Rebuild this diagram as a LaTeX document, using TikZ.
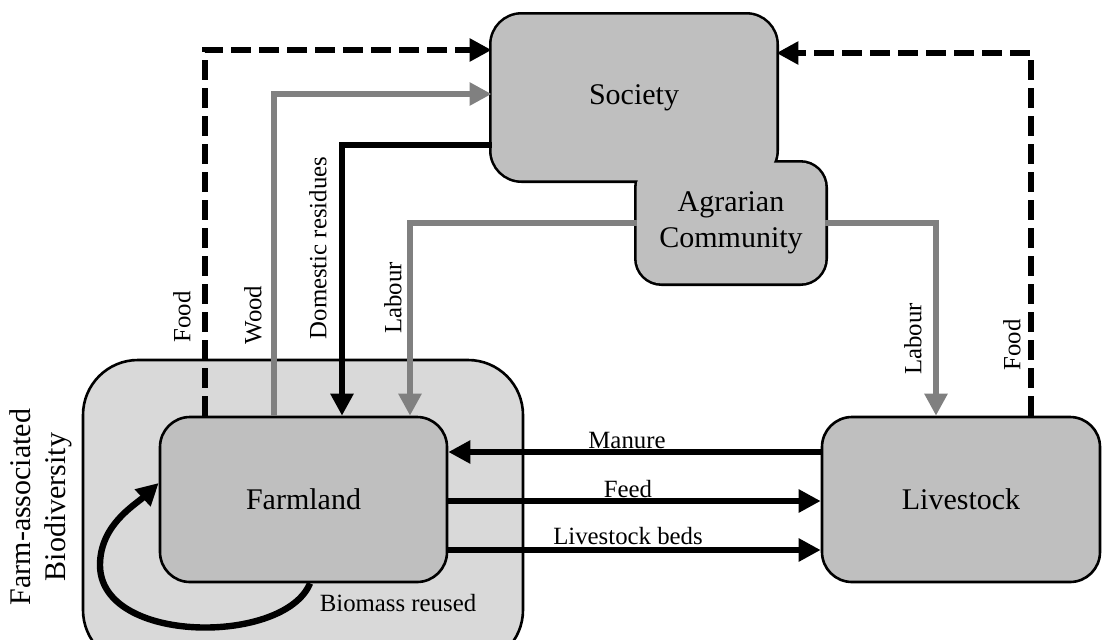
\documentclass[tikz,border=0pt]{standalone}
\usepackage{fontspec}
\setmainfont{Liberation Serif}
\usetikzlibrary{arrows.meta,backgrounds}

\definecolor{boxgray}{HTML}{BFBFBF}
\definecolor{biogray}{HTML}{D9D9D9}
\definecolor{flowgray}{HTML}{808080}

\begin{document}
\begin{tikzpicture}[
  x=0.5pt, y=-0.5pt,
  box/.style={draw=black, line width=1.3pt, fill=boxgray, align=center,
    inner sep=0pt, font=\fontsize{15}{18}\selectfont},
  unionbox/.style={align=center, inner sep=0pt, font=\fontsize{15}{18}\selectfont},
  flowlbl/.style={inner sep=1pt, font=\fontsize{12.4}{15}\selectfont},
  blkflow/.style={line width=3.2pt, -{Triangle[length=11pt,width=11pt]}},
  grayflow/.style={blkflow, draw=flowgray},
  foodflow/.style={blkflow, dash pattern=on 10pt off 4pt},
]
\useasboundingbox (0,0) rectangle (1104,639);
\clip (0,0) rectangle (1104,639);

% farm-associated biodiversity frame
\node[box, fill=biogray, rounded corners=27.5pt, minimum width=220pt,
  minimum height=152.5pt] (bio) at (303,512.5) {};
\node[rotate=90, align=center, inner sep=0pt, font=\fontsize{15}{17.5}\selectfont]
  (biolbl) at (41,507) {Farm-associated\\Biodiversity};

% main compartments
\node[box, rounded corners=15pt, minimum width=143.5pt, minimum height=82.5pt]
  (farm) at (303.5,499.5) {Farmland};
\node[box, rounded corners=15pt, minimum width=139pt, minimum height=82.5pt]
  (liv) at (961,499.5) {Livestock};

% society and agrarian community share one merged outline
\node[unionbox, minimum width=142pt, minimum height=82.5pt] (soc) at (634,97.5) {Society};
\node[unionbox, minimum width=94pt, minimum height=60pt] (agr) at (731,223) {Agrarian\\Community};
\begin{scope}[on background layer]
  \draw[line width=2.6pt, rounded corners=15pt] (soc.south west) rectangle (soc.north east);
  \draw[line width=2.6pt, rounded corners=12.5pt] (agr.south west) rectangle (agr.north east);
  \fill[boxgray, rounded corners=15pt] (soc.south west) rectangle (soc.north east);
  \fill[boxgray, rounded corners=12.5pt] (agr.south west) rectangle (agr.north east);
\end{scope}

% flows between farmland and society
\draw[foodflow] (farm.north -| 205,0) |- (soc.west |- 0,50);
\draw[grayflow] (farm.north -| 274,0) |- (soc.west |- 0,94);
\draw[blkflow] (soc.west |- 0,145) -| (farm.north -| 342,0);
\draw[grayflow] (agr.west) -| (farm.north -| 410,0);

% flows between livestock and society
\draw[grayflow] (agr.east) -| (liv.north -| 936,0);
\draw[foodflow] (liv.north -| 1031,0) |- (soc.east |- 0,53);

% flows between farmland and livestock
\draw[blkflow] (liv.west |- 0,452) -- (farm.east |- 0,452);
\draw[blkflow] (farm.east |- 0,501) -- (liv.west |- 0,501);
\draw[blkflow] (farm.east |- 0,550) -- (liv.west |- 0,550);

% biomass loop
\draw[blkflow] (farm.south -| 310,0) .. controls (285,645) and (100,645) .. (100,565)
  .. controls (100,525) and (135,505) .. (farm.west |- 0,483);

% flow labels
\node[flowlbl, rotate=90] (lfood) at (182,317) {Food};
\node[flowlbl, rotate=90] (lwood) at (253,315) {Wood};
\node[flowlbl, rotate=90] (lres) at (318,248) {Domestic residues};
\node[flowlbl, rotate=90] (llab) at (393,298) {Labour};
\node[flowlbl, rotate=90] (rlab) at (913,339) {Labour};
\node[flowlbl, rotate=90] (rfood) at (1012,345) {Food};
\node[flowlbl] (lman) at (627,440) {Manure};
\node[flowlbl] (lfeed) at (628,489) {Feed};
\node[flowlbl] (lbeds) at (628,536) {Livestock beds};
\node[flowlbl] (lbio) at (398,603) {Biomass reused};
\end{tikzpicture}
\end{document}
